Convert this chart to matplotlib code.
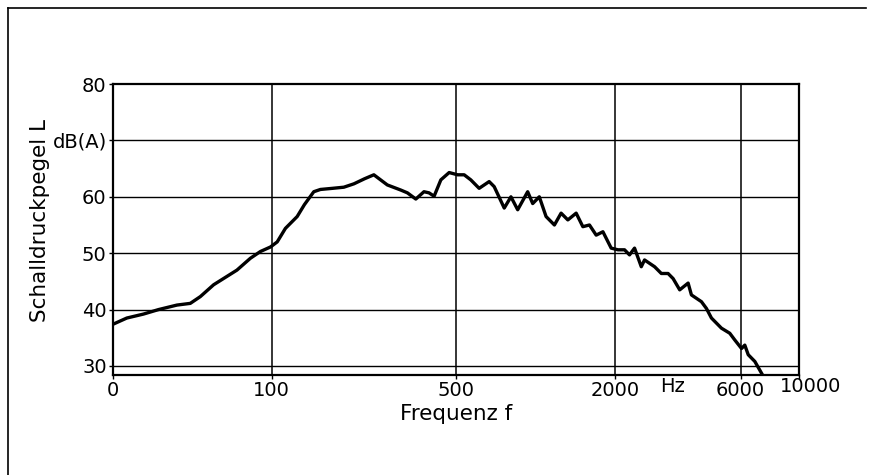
import matplotlib
matplotlib.use("Agg")
import matplotlib.pyplot as plt
from matplotlib.lines import Line2D

# values (Hz, dB(A))
freq = [25, 28.2, 32.6, 37.2, 43.7, 49.1, 53.6, 60.2, 73.8, 83, 90.6, 98.9,
        104.9, 112.7, 124.9, 133, 144.4, 153, 170, 187.7, 205, 225, 244,
        274.5, 308.5, 327, 352, 378, 395, 413, 438, 471, 507, 537, 569,
        612, 668, 698, 762, 808, 857, 935, 977, 1035, 1098, 1181, 1252,
        1328, 1428, 1514, 1604, 1701, 1804, 1939, 2057, 2179, 2276, 2378,
        2522, 2595, 2833, 3005, 3187, 3330, 3528, 3797, 3908, 4265, 4455,
        4655, 5080, 5463, 5710, 6053, 6229, 6418, 6800, 7213]
level = [37.4, 38.5, 39.2, 40.0, 40.8, 41.1, 42.3, 44.4, 47.0, 49.1, 50.3, 51.1,
         52.0, 54.4, 56.5, 58.6, 60.9, 61.3, 61.5, 61.7, 62.3, 63.2, 63.9,
         62.1, 61.2, 60.7, 59.6, 60.9, 60.7, 60.1, 63.0, 64.3, 63.9, 63.9, 63.0,
         61.5, 62.7, 61.8, 58.0, 60.0, 57.7, 60.9, 58.8, 60.0, 56.5, 55.0, 57.1,
         55.9, 57.1, 54.7, 55.0, 53.2, 53.8, 50.9, 50.6, 50.6, 49.7, 50.9,
         47.6, 48.8, 47.6, 46.4, 46.4, 45.5, 43.5, 44.7, 42.6, 41.4, 40.2,
         38.5, 36.7, 35.8, 34.6, 33.1, 33.7, 32.0, 30.8, 28.7]

x_ticks = [25, 100, 500, 2000, 6000, 10000]
x_labels = ["0", "100", "500", "2000", "6000", ""]
y_ticks = [30, 40, 50, 60, 70, 80]
y_labels = ["30", "40", "50", "60", "dB(A)", "80"]

plt.rcParams.update({'font.size': 14, 'font.family': 'DejaVu Sans'})

fig = plt.figure(figsize=(8.7, 4.75), dpi=100)
ax = fig.add_axes([113 / 870, 1 - 375 / 475, 686 / 870, 291 / 475])

ax.plot(freq, level, color="black", linewidth=2.4, solid_joinstyle="round")

ax.set_xscale("log")
ax.set_xlim(25, 10000)
ax.set_ylim(28.4, 80)
ax.set_xticks(x_ticks)
ax.set_xticklabels(x_labels)
ax.minorticks_off()
ax.set_yticks(y_ticks)
ax.set_yticklabels(y_labels)
ax.tick_params(axis="both", length=3, width=1, pad=1.5, color="black")

for v in [100, 500, 2000, 6000]:
    ax.axvline(v, color="black", linewidth=1.1)
for v in [30, 40, 50, 60, 70]:
    ax.axhline(v, color="black", linewidth=1.0)
for s in ax.spines.values():
    s.set_linewidth(1.6)

lab_y = 1 - 387 / 475
fig.text(673 / 870, lab_y, "Hz", ha="center", va="center", fontsize=14)
fig.text(811 / 870, lab_y, "10000", ha="center", va="center", fontsize=14)
fig.text(456 / 870, 1 - 414 / 475, "Frequenz f", ha="center", va="center", fontsize=15.5)
fig.text(40 / 870, 1 - 220 / 475, "Schalldruckpegel L", ha="center", va="center",
         rotation=90, fontsize=15.5)

# scanned page frame
fig.add_artist(Line2D([8 / 870, 8 / 870], [0, 1 - 8 / 475], color="black",
                      linewidth=1.2, transform=fig.transFigure))
fig.add_artist(Line2D([8 / 870, 866 / 870], [1 - 8 / 475, 1 - 8 / 475], color="black",
                      linewidth=1.2, transform=fig.transFigure))

fig.savefig("out.png", dpi=100)
